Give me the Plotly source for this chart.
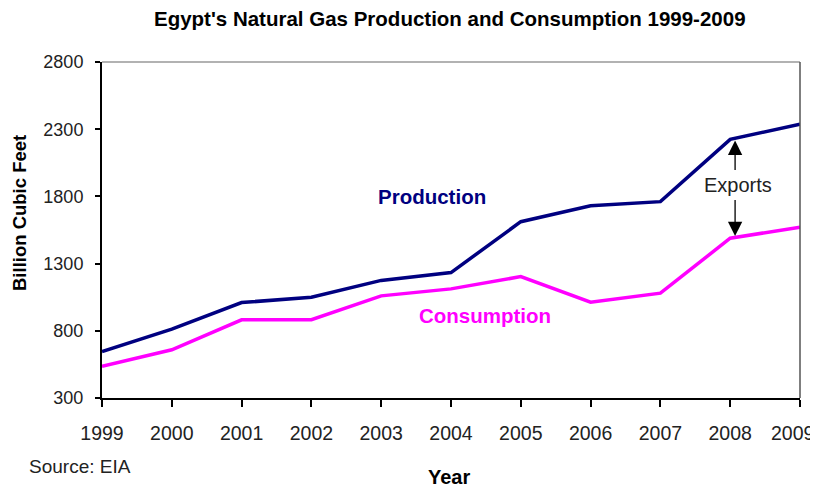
import plotly.graph_objects as go

years = [1999, 2000, 2001, 2002, 2003, 2004, 2005, 2006, 2007, 2008, 2009]
production = [646, 813, 1010, 1050, 1175, 1233, 1612, 1731, 1761, 2224, 2338]
consumption = [535, 659, 882, 882, 1060, 1112, 1203, 1013, 1080, 1489, 1571]
y_ticks = [300, 800, 1300, 1800, 2300, 2800]

FONT = "Liberation Sans, Arial, sans-serif"

fig = go.Figure()
fig.add_trace(go.Scatter(x=years, y=production, mode="lines",
                         line=dict(color="#000080", width=3.5), name="Production"))
fig.add_trace(go.Scatter(x=years, y=consumption, mode="lines",
                         line=dict(color="#FF00FF", width=3.5), name="Consumption"))

# page body has an 8px default margin, so the figure is sized/offset for it
fig.update_layout(
    width=810, height=482,
    margin=dict(l=94, r=18, t=54, b=92),
    paper_bgcolor="white", plot_bgcolor="white",
    showlegend=False,
    font=dict(family=FONT, color="black", size=18),
)
# last label (2009) would overflow the page edge, drawn as annotation below
tick_text = [str(y) for y in years[:-1]] + [""]
fig.update_xaxes(range=[1999, 2009], tickmode="array", tickvals=years,
                 ticktext=tick_text, automargin=False,
                 showgrid=False, zeroline=False, showline=True, linecolor="black",
                 linewidth=2, ticks="outside", ticklen=7, tickcolor="black",
                 tickwidth=1.5, ticklabelstandoff=10,
                 tickfont=dict(size=19.5, color="#222222"))
fig.update_yaxes(range=[300, 2800], tickmode="array", tickvals=y_ticks, automargin=False,
                 showgrid=False, zeroline=False, showline=True, linecolor="black",
                 linewidth=2, ticks="outside", ticklen=5, tickcolor="black",
                 tickwidth=1.5, ticklabelstandoff=8,
                 tickfont=dict(size=18, color="#222222"))

# frame on top/right
fig.add_shape(type="line", xref="paper", yref="paper", x0=0, x1=1, y0=1, y1=1,
              line=dict(color="#999999", width=1.5))
fig.add_shape(type="line", xref="paper", yref="paper", x0=1, x1=1, y0=0, y1=1,
              line=dict(color="#555555", width=1.5))

# screen pixel -> paper coordinates (plot area spans 102..800, 62..398 on screen)
def px_x(p):
    return (p - 102) / (800 - 102)

def px_y(p):
    return (398 - p) / (398 - 62)

fig.add_annotation(x=px_x(816), xref="paper", y=px_y(433), yref="paper",
                   text=str(years[-1]), showarrow=False, xanchor="right",
                   yanchor="middle", font=dict(size=19.5, family=FONT, color="#222222"))

fig.add_annotation(x=px_x(450), y=px_y(18), xref="paper", yref="paper",
                   text="<b>Egypt's Natural Gas Production and Consumption 1999-2009</b>",
                   showarrow=False, xanchor="center", yanchor="middle",
                   font=dict(size=20.5, family=FONT, color="black"))
fig.add_annotation(x=px_x(19), y=px_y(213), xref="paper", yref="paper",
                   text="<b>Billion Cubic Feet</b>", textangle=-90,
                   showarrow=False, xanchor="center", yanchor="middle",
                   font=dict(size=18.5, family=FONT, color="black"))
fig.add_annotation(x=px_x(449), y=px_y(477), xref="paper", yref="paper",
                   text="<b>Year</b>", showarrow=False, xanchor="center", yanchor="middle",
                   font=dict(size=20, family=FONT, color="black"))
fig.add_annotation(x=px_x(27), y=px_y(466), xref="paper", yref="paper",
                   text="Source: EIA", showarrow=False, xanchor="left", yanchor="middle",
                   font=dict(size=19, family=FONT, color="#222222"))

fig.add_annotation(x=2003.73, y=1803, text="<b>Production</b>", showarrow=False,
                   font=dict(color="#000080", size=20.5, family=FONT))
fig.add_annotation(x=2004.49, y=911, text="<b>Consumption</b>", showarrow=False,
                   font=dict(color="#FF00FF", size=20.5, family=FONT))
fig.add_annotation(x=2008.11, y=1885, text="Exports", showarrow=False,
                   font=dict(color="#222222", size=20, family=FONT))
# arrows
fig.add_annotation(x=2008.07, y=2215, ax=2008.07, ay=1985,
                   xref="x", yref="y", axref="x", ayref="y", text="",
                   showarrow=True, arrowhead=2, arrowsize=2.2, arrowwidth=1.3,
                   arrowcolor="black")
fig.add_annotation(x=2008.07, y=1505, ax=2008.07, ay=1785,
                   xref="x", yref="y", axref="x", ayref="y", text="",
                   showarrow=True, arrowhead=2, arrowsize=2.2, arrowwidth=1.3,
                   arrowcolor="black")

fig.write_html("out.html")
